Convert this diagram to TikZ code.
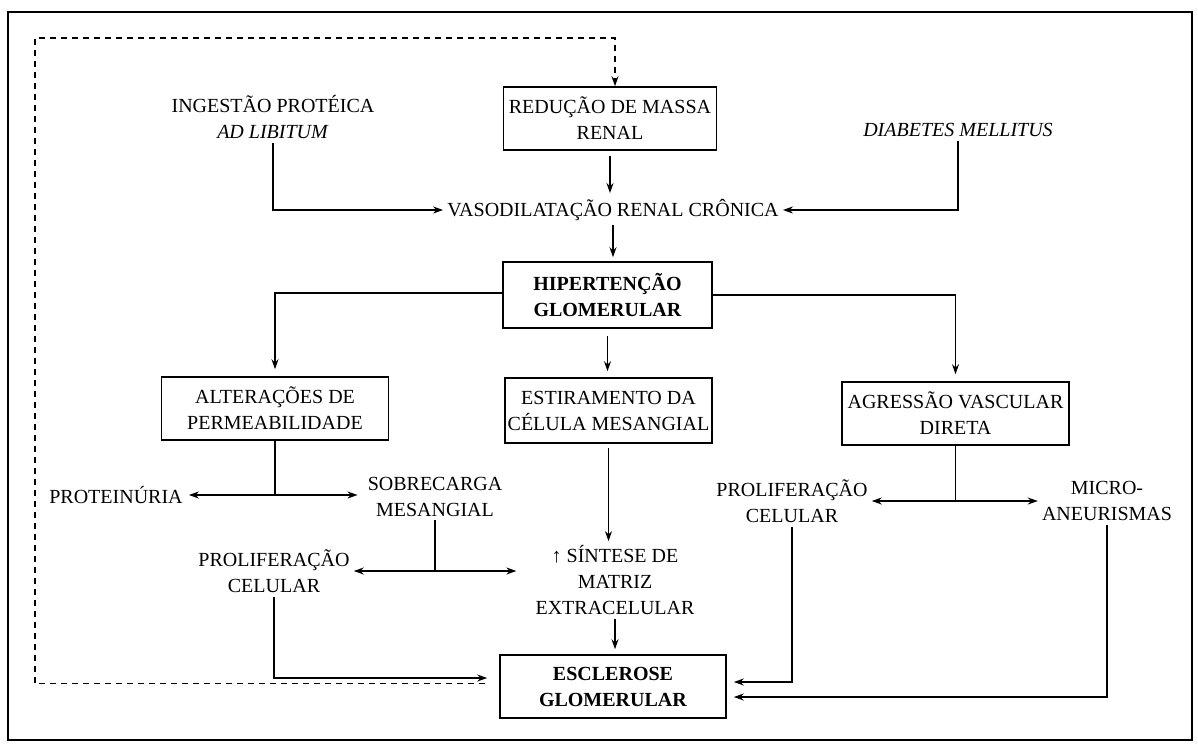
\documentclass[tikz,border=0pt]{standalone}
\usepackage{fontspec}
\setmainfont{Liberation Serif}
\usetikzlibrary{arrows.meta}
\tikzset{
	caixa/.style={draw, line width=1.6pt, align=center, inner sep=0pt},
	texto/.style={align=center, inner sep=4pt},
	fio/.style={line width=1.5pt},
	seta/.style={fio, -{Stealth[length=10pt,width=7pt]}},
	duas/.style={fio, {Stealth[length=10pt,width=7pt]}-{Stealth[length=10pt,width=7pt]}},
	pont/.style={dash pattern=on 6pt off 5pt}
}

\begin{document}
\begin{tikzpicture}[x=1pt, y=-1pt, font=\fontsize{20}{26}\selectfont]
%Frame
	\useasboundingbox (0,0) rectangle (1198,747);
	\draw[line width=2.5pt] (8,12) rectangle (1192,740);
%The causes
	\node[caixa, minimum width=213pt, minimum height=63pt] (red) at (610,118.5) {REDUÇÃO DE MASSA\\RENAL};
	\node[texto] (ingest) at (273,117) {INGESTÃO PROTÉICA\\\textit{AD LIBITUM}};
	\node[texto] (diab) at (958,130) {\textit{DIABETES MELLITUS}};
	\node[texto] (vaso) at (613,210) {VASODILATAÇÃO RENAL CRÔNICA};
	\draw[seta] (ingest.south) |- (vaso.west);
	\draw[seta] (diab.south) |- (vaso.east);
	\draw[seta, shorten <=5pt, shorten >=2pt] (red.south) -- (red.south |- vaso.north);
%The hypertension
	\node[caixa, minimum width=209pt, minimum height=66pt] (hiper) at (607.5,295) {\textbf{HIPERTENÇÃO}\\\textbf{GLOMERULAR}};
	\draw[seta, shorten >=4pt] (vaso.south) -- (vaso.south |- hiper.north);
%The three branches
	\node[caixa, minimum width=227pt, minimum height=63pt] (alter) at (275,408.5) {ALTERAÇÕES DE\\PERMEABILIDADE};
	\node[caixa, minimum width=207pt, minimum height=65pt] (estir) at (608.5,410.5) {ESTIRAMENTO DA\\CÉLULA MESANGIAL};
	\node[caixa, minimum width=227pt, minimum height=63pt] (agr) at (955.5,413.5) {AGRESSÃO VASCULAR\\DIRETA};
	\draw[seta, shorten >=7pt] ([yshift=2pt]hiper.west) -| (alter.north);
	\draw[seta, shorten >=7pt] (hiper.east) -| (agr.north);
	\draw[seta, shorten <=7pt, shorten >=6pt] (hiper.south) -- (hiper.south |- estir.north);
%The left branch
	\node[texto] (prot) at (116,495) {PROTEINÚRIA};
	\node[texto] (sobre) at (435,496.5) {SOBRECARGA\\MESANGIAL};
	\node[texto] (prolA) at (274,571) {PROLIFERAÇÃO\\CELULAR};
	\draw[fio] (alter.south) -- (alter.south |- prot.east);
	\draw[duas, shorten <=2pt, shorten >=6pt] (prot.east) -- (prot.east -| sobre.west);
	\draw[fio] (sobre.south) -- (sobre.south |- prolA.east);
%The middle branch
	\node[texto] (sint) at (615,580) {↑ SÍNTESE DE\\MATRIZ\\EXTRACELULAR};
	\draw[duas, shorten >=15pt] (prolA.east) -- (prolA.east -| sint.west);
	\draw[seta, shorten <=4pt] (estir.south) -- (estir.south |- sint.north);
%The right branch
	\node[texto] (prolB) at (792,501) {PROLIFERAÇÃO\\CELULAR};
	\node[texto] (micro) at (1107,501) {MICRO-\\ANEURISMAS};
	\draw[fio] (agr.south) -- (agr.south |- prolB.east);
	\draw[duas] (prolB.east) -- (prolB.east -| micro.west);
%The sclerosis
	\node[caixa, minimum width=226pt, minimum height=63pt] (escl) at (613,686.5) {\textbf{ESCLEROSE}\\\textbf{GLOMERULAR}};
	\draw[seta, shorten >=5pt] (sint.south) -- (sint.south |- escl.north);
	\draw[seta, shorten >=12pt] (prolA.south) |- ([yshift=8.5pt]escl.west);
	\draw[seta, shorten >=7pt] (prolB.south) |- ([yshift=4.5pt]escl.east);
	\draw[seta, shorten >=7pt] (micro.south) |- ([yshift=-10.5pt]escl.east);
%The dashed loop
	\coordinate (canto) at (35,38);
	\draw[seta, pont, shorten <=14pt] ([yshift=3pt]escl.west) -| (canto) -| ([xshift=5pt]red.north);
\end{tikzpicture}
\end{document}
